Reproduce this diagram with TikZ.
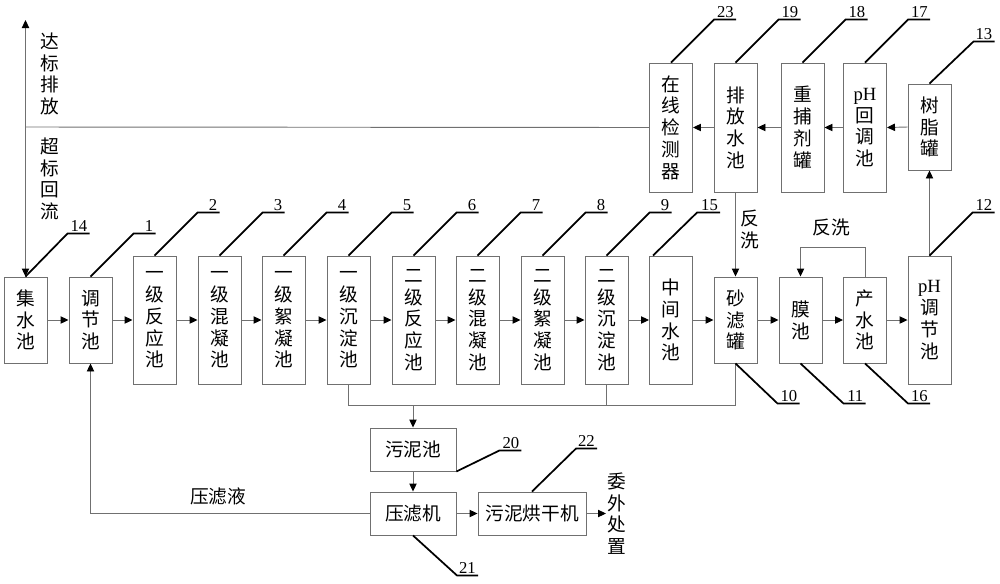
\documentclass[tikz,border=0pt]{standalone}
\usepackage{fontspec}
\setmainfont{Liberation Serif}
\newfontfamily\cjk{Noto Sans CJK SC}
\usetikzlibrary{arrows.meta}
\definecolor{lg}{RGB}{112,112,112}
\begin{document}
\begin{tikzpicture}[x=0.75pt,y=-0.75pt,
  cjkf/.style={font=\cjk\fontsize{14}{16.3}\selectfont},
  box/.style={draw=lg, line width=0.7pt, minimum width=32.25pt, inner sep=0pt, align=center, cjkf},
  tall/.style={box, minimum height=96pt},
  short/.style={box, minimum height=64.5pt},
  top/.style={box, minimum height=96.75pt},
  hbox/.style={draw=lg, line width=0.7pt, minimum height=32.25pt, minimum width=64.5pt, inner sep=0pt, cjkf},
  vt/.style={align=center, inner sep=0pt, cjkf},
  line/.style={draw=lg, line width=0.7pt},
  arr/.style={line, -{Triangle[length=6pt,width=5.5pt,color=black]}},
  ld/.style={draw=black, line width=1.3pt},
  num/.style={anchor=south east, inner sep=1pt, font=\fontsize{12.5}{14}\selectfont}
]
\useasboundingbox (0,0) rectangle (1000,583);

% main row
\node[short] (n14) at (25.5,320) {集\\水\\池};
\node[short] (n1)  at (90.5,320) {调\\节\\池};
\node[tall]  (n2)  at (154.5,320) {一\\级\\反\\应\\池};
\node[tall]  (n3)  at (219.5,320) {一\\级\\混\\凝\\池};
\node[tall]  (n4)  at (283.5,320) {一\\级\\絮\\凝\\池};
\node[tall]  (n5)  at (348.5,320) {一\\级\\沉\\淀\\池};
\node[tall]  (n6)  at (413.5,320) {二\\级\\反\\应\\池};
\node[tall]  (n7)  at (477.5,320) {二\\级\\混\\凝\\池};
\node[tall]  (n8)  at (542.5,320) {二\\级\\絮\\凝\\池};
\node[tall]  (n9)  at (606.5,320) {二\\级\\沉\\淀\\池};
\node[tall]  (n15) at (671,320) {中\\间\\水\\池};
\node[short] (n10) at (735.5,320) {砂\\滤\\罐};
\node[short] (n11) at (800.5,320) {膜\\池};
\node[short] (n16) at (865,320) {产\\水\\池};
\node[tall]  (n12) at (929.5,320) {{\rmfamily pH}\\调\\节\\池};

% top row
\node[top] (n23) at (671,127.5) {在\\线\\检\\测\\器};
\node[top] (n19) at (735.5,127.5) {排\\放\\水\\池};
\node[top] (n18) at (802.5,127.5) {重\\捕\\剂\\罐};
\node[top] (n17) at (865,127.5) {{\rmfamily pH}\\回\\调\\池};
\node[box, minimum height=64.5pt] (n13) at (929.5,127) {树\\脂\\罐};

% bottom
\node[hbox] (n20) at (413,449.5) {污泥池};
\node[hbox] (n21) at (413,513.5) {压滤机};
\node[hbox, minimum width=81pt] (n22) at (532,513.5) {污泥烘干机};

% texts
\node[vt] (t1) at (50,74) {达\\标\\排\\放};
\node[vt] (t2) at (50,179) {超\\标\\回\\流};
\node[vt] (t3) at (750,229.5) {反\\洗};
\node[vt] (t4) at (831,227) {反洗};
\node[vt] (t5) at (218,496) {压滤液};
\node[vt] (t6) at (617,513.5) {委\\外\\处\\置};

% main row arrows
\foreach \a/\b in {n14/n1,n1/n2,n2/n3,n3/n4,n4/n5,n5/n6,n6/n7,n7/n8,n8/n9,n9/n15,n15/n10,n10/n11,n11/n16,n16/n12}
  \draw[arr] (\a.east) -- (\b.west);

% top row arrows
\draw[arr] (n13.west) -- (n17.east);
\draw[arr] (n17.west) -- (n18.east);
\draw[arr] (n18.west) -- (n19.east);
\draw[arr] (n19.west) -- (n23.east);
\draw[arr] (n12.north) -- (n13.south);
\draw[arr] (n19.south) -- (n10.north);

% discharge / return
\coordinate (J) at (25.5,127);
\coordinate (up) at (25.5,20);
\draw[line] (n23.west) -- (J);
\draw[arr] (J) -- (up);
\draw[arr] (J) -- (n14.north);

% backwash loop
\draw[arr] (n16.north) -- ++(0,-29) -| (n11.north);

% sludge collector
\coordinate (cy) at (0,405);
\draw[line] (n5.south) -- (n5.south |- cy) -- (n10.south |- cy) -- (n10.south);
\draw[line] (n9.south) -- (n9.south |- cy);
\draw[arr] (n20.north |- cy) -- (n20.north);
\draw[arr] (n20.south) -- (n21.north);
\draw[arr] (n21.east) -- (n22.west);
\coordinate (out) at (606,513.5);
\draw[arr] (n22.east) -- (out);
\draw[arr] (n21.west) -| (n1.south);

% leaders
\draw[ld] (n14.north) -- ++(42,-43) -- ++(22,0) node[num] {14};
\draw[ld] (n1.north) -- ++(43,-43) -- ++(22,0) node[num] {1};
\foreach \n in {2,3,4,5,6,7,8,9}
  \draw[ld] (n\n.north) -- ++(43,-43) -- ++(22,0) node[num] {\n};
\draw[ld] ([xshift=3pt]n15.north west) -- ++(44,-43) -- ++(23,0) node[num] {15};
\draw[ld] (n12.north) -- ++(43,-43) -- ++(22,0) node[num] {12};
\draw[ld] (n23.north) -- ++(43,-43) -- ++(22,0) node[num] {23};
\draw[ld] (n19.north) -- ++(43,-43) -- ++(22,0) node[num] {19};
\draw[ld] (n18.north) -- ++(43,-43) -- ++(22,0) node[num] {18};
\draw[ld] (n17.north) -- ++(43,-43) -- ++(22,0) node[num] {17};
\draw[ld] (n13.north) -- ++(44,-42) -- ++(21,0) node[num] {13};
\draw[ld] (n10.south) -- ++(42,40) -- ++(22,0) node[num] {10};
\draw[ld] (n11.south) -- ++(43,40) -- ++(22,0) node[num] {11};
\draw[ld] (n16.south) -- ++(43,40) -- ++(22,0) node[num] {16};
\draw[ld] (n20.south east) -- ++(43,-21) -- ++(22,0) node[num] {20};
\draw[ld] (n22.north) -- ++(44,-43) -- ++(21,0) node[num] {22};
\draw[ld] (n21.south) -- ++(44,40) -- ++(21,0) node[num] {21};
\end{tikzpicture}
\end{document}
